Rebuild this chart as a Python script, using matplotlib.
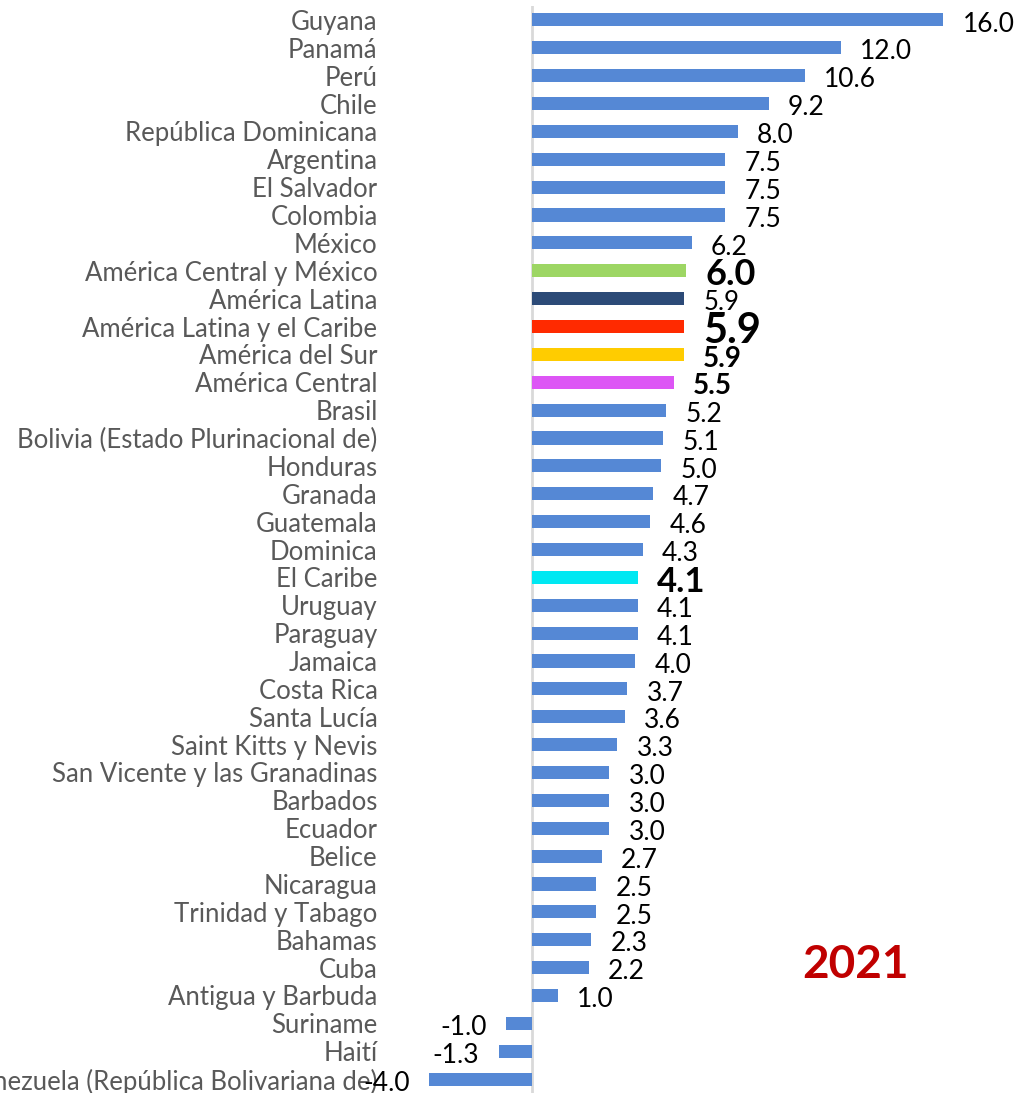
import matplotlib.pyplot as plt
import numpy as np

plt.rcParams['font.family'] = ['Lato', 'DejaVu Sans']

paises = ['Guyana', 'Panamá', 'Perú', 'Chile', 'República Dominicana', 'Argentina',
          'El Salvador', 'Colombia', 'México', 'América Central y México',
          'América Latina', 'América Latina y el Caribe', 'América del Sur',
          'América Central', 'Brasil', 'Bolivia (Estado Plurinacional de)',
          'Honduras', 'Granada', 'Guatemala', 'Dominica', 'El Caribe', 'Uruguay',
          'Paraguay', 'Jamaica', 'Costa Rica', 'Santa Lucía', 'Saint Kitts y Nevis',
          'San Vicente y las Granadinas', 'Barbados', 'Ecuador', 'Belice',
          'Nicaragua', 'Trinidad y Tabago', 'Bahamas', 'Cuba', 'Antigua y Barbuda',
          'Suriname', 'Haití', 'Venezuela (República Bolivariana de)']
valores = [16.0, 12.0, 10.6, 9.2, 8.0, 7.5, 7.5, 7.5, 6.2, 6.0, 5.9, 5.9, 5.9, 5.5,
           5.2, 5.1, 5.0, 4.7, 4.6, 4.3, 4.1, 4.1, 4.1, 4.0, 3.7, 3.6, 3.3, 3.0, 3.0,
           3.0, 2.7, 2.5, 2.5, 2.3, 2.2, 1.0, -1.0, -1.3, -4.0]

azul = '#5588D5'
# agregados regionales: color, tamaño de etiqueta, negrita
especiales = {
    'América Central y México': ('#9DD664', 26, True),
    'América Latina': ('#2C4A77', 18.5, False),
    'América Latina y el Caribe': ('#FF2A00', 30, True),
    'América del Sur': ('#FFCC00', 20, True),
    'América Central': ('#DD55F5', 20, True),
    'El Caribe': ('#00E8F2', 25, True),
}

colores = [especiales[p][0] if p in especiales else azul for p in paises]
y = np.arange(len(paises))

fig = plt.figure(figsize=(10.18, 10.93), dpi=100)
ax = fig.add_axes([390/1018, 0, 628/1018, 1 - 6/1093])

ax.barh(y, valores, height=0.47, color=colores, zorder=2)
ax.axvline(0, color='#D9D9D9', lw=2, zorder=1)

ax.set_ylim(len(paises) - 0.5, -0.5)
ax.set_xlim(-5.53, 18.9)
ax.set_yticks(y)
ax.set_yticklabels(paises, fontsize=18.5, color='#595959')
ax.tick_params(axis='y', length=0, pad=9)
ax.set_xticks([])
for s in ax.spines.values():
    s.set_visible(False)

for yi, v, p in zip(y, valores, paises):
    size, bold = 19, False
    if p in especiales:
        size, bold = especiales[p][1], especiales[p][2]
    if v >= 0:
        ax.annotate(f'{v:.1f}', (v, yi), xytext=(14, -3), textcoords='offset points',
                    ha='left', va='center', fontsize=size,
                    fontweight='bold' if bold else 'normal', color='black',
                    annotation_clip=False)
    else:
        ax.annotate(f'{v:.1f}', (v, yi), xytext=(-14, -3), textcoords='offset points',
                    ha='right', va='center', fontsize=size, color='black',
                    annotation_clip=False)

fig.text(855/1018, 1 - 965/1093, '2021', color='#C00000', fontsize=33,
         fontweight='bold', ha='center', va='center')

fig.savefig('out.png', dpi=100)
